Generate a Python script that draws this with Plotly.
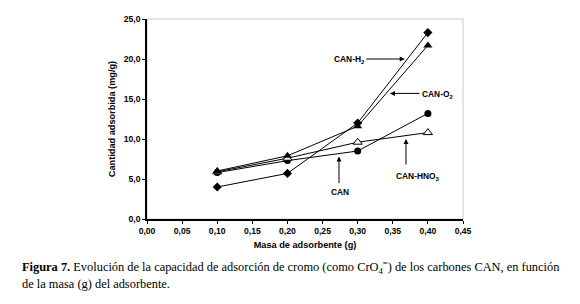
import plotly.graph_objects as go

masa = [0.10, 0.20, 0.30, 0.40]
can_h2 = [4.0, 5.7, 12.0, 23.3]
can_o2 = [6.0, 7.9, 11.6, 21.7]
can = [5.8, 7.3, 8.5, 13.2]
can_hno3 = [5.9, 7.6, 9.6, 10.8]

OFF = 8  # page body margin
W, H = 580 - OFF, 304 - OFF
L, T = 147 - OFF, 14 - OFF
PW, PH = 316, 205
R, B = W - L - PW, H - T - PH

def px(xp):
    return (xp - OFF - L) / PW

def py(yp):
    return (T + PH - (yp - OFF)) / PH

fig = go.Figure()
common = dict(mode="lines+markers", line=dict(color="black", width=1), showlegend=False)
fig.add_trace(go.Scatter(x=masa, y=can, name="CAN",
                         marker=dict(symbol="circle", size=7, color="black"), **common))
fig.add_trace(go.Scatter(x=masa, y=can_hno3, name="CAN-HNO3",
                         marker=dict(symbol="triangle-up", size=8, color="white",
                                     line=dict(color="black", width=1)), **common))
fig.add_trace(go.Scatter(x=masa, y=can_o2, name="CAN-O2",
                         marker=dict(symbol="triangle-up", size=8, color="black"), **common))
fig.add_trace(go.Scatter(x=masa, y=can_h2, name="CAN-H2",
                         marker=dict(symbol="diamond", size=7, color="black"), **common))

tickfont = dict(family="Liberation Sans", size=8.6, color="black", weight="bold")
titlefont = dict(family="Liberation Sans", size=9.2, color="black", weight="bold")
fig.update_xaxes(range=[0, 0.45], dtick=0.05, tick0=0, tickformat=".2f",
                 showline=True, linecolor="black", linewidth=1.5, ticks="outside",
                 ticklen=3, tickcolor="black", showgrid=False, zeroline=False,
                 tickfont=tickfont,
                 title=dict(text="Masa de adsorbente (g)", font=titlefont, standoff=6))
fig.update_yaxes(range=[0, 25], dtick=5, tick0=0, tickformat=".1f",
                 showline=True, linecolor="black", linewidth=1.5, ticks="outside",
                 ticklen=3, tickcolor="black", showgrid=False, zeroline=False,
                 tickfont=tickfont,
                 title=dict(text="Cantidad adsorbida (mg/g)", font=titlefont, standoff=7))

# light gray frame for the plot area
fig.add_shape(type="rect", xref="x domain", yref="y domain", x0=0, x1=1, y0=0, y1=1,
              line=dict(color="#c8c8c8", width=1), layer="below")

lab_font = dict(family="Liberation Sans", size=8.4, color="black")
arrows = [
    # head x, head y, ax, ay
    (0.367, 20.0, -40, 0),
    (0.346, 15.7, 31, 0),
    (0.2734, 7.8, 0, 28),
    (0.3688, 10.0, 0, 27),
]
for hx, hy, ax, ay in arrows:
    fig.add_annotation(x=hx, y=hy, ax=ax, ay=ay, text="", showarrow=True,
                       arrowhead=2, arrowsize=1, arrowwidth=1, arrowcolor="black")

labels = [
    ("<b>CAN-H<sub>2</sub></b>", 349, 56),
    ("<b>CAN-O<sub>2</sub></b>", 437, 91),
    ("<b>CAN</b>", 340, 191),
    ("<b>CAN-HNO<sub>3</sub></b>", 418, 175),
]
for txt, xp, yp in labels:
    fig.add_annotation(xref="paper", yref="paper", x=px(xp), y=py(yp), text=txt,
                       showarrow=False, font=lab_font, xanchor="center", yanchor="middle")

cap_font = dict(family="Liberation Serif", size=12.4, color="black")
fig.add_annotation(xref="paper", yref="paper", x=px(20), y=py(268), xanchor="left", yanchor="middle",
                   text="<b>Figura 7.</b> Evolución de la capacidad de adsorción de cromo (como CrO<sub>4</sub><sup>=</sup>) de los carbones CAN, en función",
                   showarrow=False, font=cap_font)
fig.add_annotation(xref="paper", yref="paper", x=px(20), y=py(286), xanchor="left", yanchor="middle",
                   text="de la masa (g) del adsorbente.",
                   showarrow=False, font=cap_font)

fig.update_layout(width=W, height=H, margin=dict(l=L, r=R, t=T, b=B),
                  paper_bgcolor="white", plot_bgcolor="white", separators=", ",
                  font=dict(family="Liberation Sans", color="black"))
fig.write_html("out.html")
